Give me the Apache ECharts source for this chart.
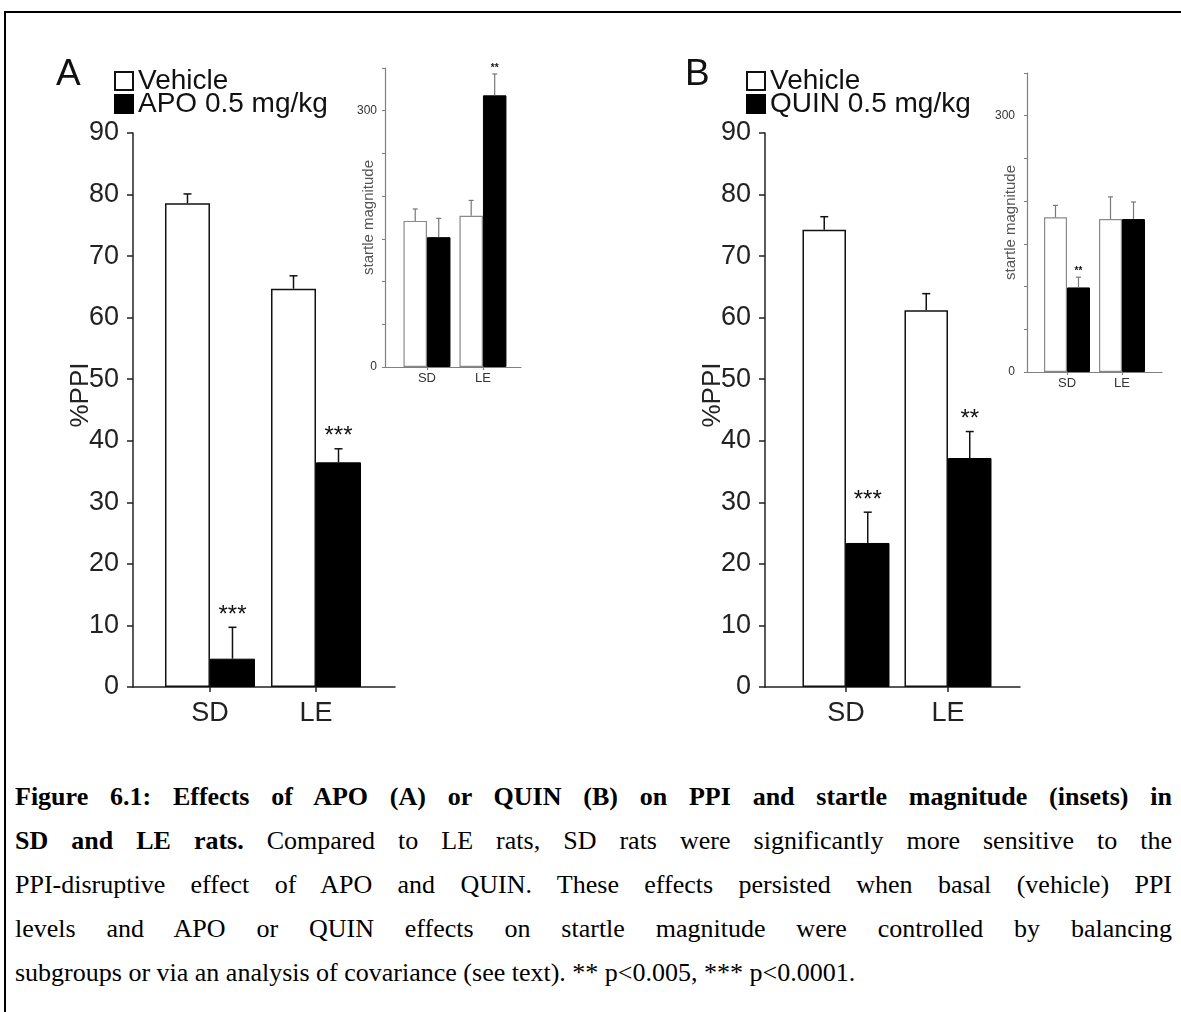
<!DOCTYPE html>
<html>
<head>
<meta charset="utf-8">
<script src="https://cdn.jsdelivr.net/npm/echarts@6/dist/echarts.min.js"></script>
<style>
  html, body { margin: 0; padding: 0; background: #fff; width: 1181px; height: 1012px; overflow: hidden; }
  #frame { position: absolute; left: 4px; top: 11px; width: 1300px; height: 1100px; border-top: 2px solid #000; border-left: 2px solid #000; }
  #chart { position: absolute; left: 0; top: 0; width: 1181px; height: 760px; }
  #caption { position: absolute; left: 15px; top: 775px; width: 1157px; font-family: 'Liberation Serif', 'Times New Roman', serif; font-size: 26px; line-height: 44px; color: #000; }
  #caption .j { text-align: justify; text-align-last: justify; white-space: nowrap; }
  #caption .l { text-align: left; white-space: nowrap; }
</style>
</head>
<body>
<div id="frame"></div>
<div id="chart"></div>
<div id="caption">
  <div class="j"><b>Figure 6.1: Effects of APO (A) or QUIN (B) on PPI and startle magnitude (insets) in</b></div>
  <div class="j"><b>SD and LE rats.</b> Compared to LE rats, SD rats were significantly more sensitive to the</div>
  <div class="j">PPI-disruptive effect of APO and QUIN. These effects persisted when basal (vehicle) PPI</div>
  <div class="j">levels and APO or QUIN effects on startle magnitude were controlled by balancing</div>
  <div class="l">subgroups or via an analysis of covariance (see text). ** p&lt;0.005, *** p&lt;0.0001.</div>
</div>
<script>
// ---------------- data ----------------
const groups = ['SD', 'LE'];
const seriesNames = ['Vehicle', 'APO 0.5 mg/kg', 'QUIN 0.5 mg/kg'];
const ppiTickMax = 90;
const ppiTickStep = 10;
const startleTickMax = 350;
const startleTickStep = 50;
const startleTickLabels = [0, 300];

// Panel A: %PPI
const ppiVehicleA = [78.6, 64.7];
const ppiVehicleErrA = [1.5, 2.1];
const ppiApoA = [4.6, 36.5];
const ppiApoErrA = [5.1, 2.2];
const ppiApoSigA = ['***', '***'];
// Panel B: %PPI
const ppiVehicleB = [74.3, 61.2];
const ppiVehicleErrB = [2.1, 2.7];
const ppiQuinB = [23.4, 37.2];
const ppiQuinErrB = [5.0, 4.3];
const ppiQuinSigB = ['***', '**'];
// Inset A: startle magnitude
const startleVehicleA = [171, 177];
const startleVehicleErrA = [14, 18];
const startleApoA = [152, 318];
const startleApoErrA = [22, 25];
const startleApoSigA = ['', '**'];
// Inset B: startle magnitude
const startleVehicleB = [181, 179];
const startleVehicleErrB = [14, 26];
const startleQuinB = [99, 179];
const startleQuinErrB = [12, 20];
const startleQuinSigB = ['**', ''];

// ---------------- layout / style ----------------
const FONT = "'Liberation Sans', Arial, Helvetica, sans-serif";
const groupPos = groups.map((g, i) => i + 1);

const panels = [
  { grid: { left: 133, top: 133, width: 262, height: 554 }, xMin: 0.274, xMax: 2.745, barW: 45, main: true,
    vehicle: ppiVehicleA, vErr: ppiVehicleErrA, drug: ppiApoA, dErr: ppiApoErrA, sig: ppiApoSigA, drugName: seriesNames[1] },
  { grid: { left: 765, top: 133, width: 255, height: 554 }, xMin: 0.206, xMax: 2.706, barW: 43.5, main: true,
    vehicle: ppiVehicleB, vErr: ppiVehicleErrB, drug: ppiQuinB, dErr: ppiQuinErrB, sig: ppiQuinSigB, drugName: seriesNames[2] },
  { grid: { left: 385, top: 68, width: 136, height: 299 }, xMin: 0.25, xMax: 2.68, barW: 23.5, main: false, labelMargin: 8,
    vehicle: startleVehicleA, vErr: startleVehicleErrA, drug: startleApoA, dErr: startleApoErrA, sig: startleApoSigA, drugName: seriesNames[1] },
  { grid: { left: 1027, top: 73, width: 135, height: 299 }, xMin: 0.273, xMax: 2.727, barW: 23, main: false, labelMargin: 12,
    vehicle: startleVehicleB, vErr: startleVehicleErrB, drug: startleQuinB, dErr: startleQuinErrB, sig: startleQuinSigB, drugName: seriesNames[2] }
];

function errSeries(idx, vals, errs, sigs, side, barW, st) {
  return {
    type: 'custom', xAxisIndex: idx, yAxisIndex: idx, z: 5, silent: true,
    name: 'err' + idx + side,
    data: vals.map((v, i) => [groupPos[i], v, errs[i]]),
    renderItem: function (params, api) {
      const x = api.value(0), v = api.value(1), e = api.value(2);
      const p0 = api.coord([x, v]);
      const p1 = api.coord([x, v + e]);
      const cx = p0[0] + side * barW / 2;
      const children = [
        { type: 'line', shape: { x1: cx, y1: p0[1], x2: cx, y2: p1[1] }, style: { stroke: st.color, lineWidth: st.lw } },
        { type: 'line', shape: { x1: cx - st.cap, y1: p1[1], x2: cx + st.cap, y2: p1[1] }, style: { stroke: st.color, lineWidth: st.lw } }
      ];
      const s = sigs ? sigs[params.dataIndex] : '';
      if (s) {
        children.push({ type: 'text', x: cx, y: p1[1] - st.starGap,
          style: { text: s, fill: '#111', fontSize: st.starSize, fontFamily: FONT, fontWeight: st.starWeight, align: 'center', verticalAlign: 'bottom' } });
      }
      return { type: 'group', children: children };
    }
  };
}

const grids = [], xAxes = [], yAxes = [], series = [];
panels.forEach((p, idx) => {
  grids.push(Object.assign({ containLabel: false }, p.grid));
  const lineColor = p.main ? '#222' : '#808080';
  const lw = p.main ? 1.5 : 1.2;
  xAxes.push({
    gridIndex: idx, type: 'value', min: p.xMin, max: p.xMax,
    axisLine: { show: true, onZero: false, lineStyle: { color: lineColor, width: lw } },
    axisTick: { show: true, customValues: groupPos, length: p.main ? 5 : 3, lineStyle: { color: lineColor, width: lw } },
    axisLabel: { show: true, customValues: groupPos, formatter: v => groups[Math.round(v) - 1] || '',
      fontSize: p.main ? 27 : 13, color: p.main ? '#222' : '#333', fontFamily: FONT, margin: p.main ? 13 : 5 },
    splitLine: { show: false }
  });
  yAxes.push(p.main ? {
    gridIndex: idx, type: 'value', min: 0, max: ppiTickMax, interval: ppiTickStep,
    axisLine: { show: true, lineStyle: { color: lineColor, width: lw } },
    axisTick: { show: true, length: 6, lineStyle: { color: lineColor, width: lw } },
    axisLabel: { fontSize: 27, color: '#222', fontFamily: FONT, margin: 14 },
    splitLine: { show: false },
    name: '%PPI', nameLocation: 'middle', nameGap: 39, nameRotate: 90, nameMoveOverlap: false,
    nameTextStyle: { fontSize: 26, color: '#222', fontFamily: FONT, padding: [0, 0, 0, 30] }
  } : {
    gridIndex: idx, type: 'value', min: 0, max: startleTickMax, interval: startleTickStep,
    axisLine: { show: true, lineStyle: { color: lineColor, width: lw } },
    axisTick: { show: true, length: 3, lineStyle: { color: lineColor, width: 1 } },
    axisLabel: { customValues: startleTickLabels, fontSize: 12, color: '#333', fontFamily: FONT, margin: p.labelMargin },
    splitLine: { show: false },
    name: 'startle magnitude', nameLocation: 'middle', nameGap: 9, nameRotate: 90, nameMoveOverlap: false,
    nameTextStyle: { fontSize: 15, color: '#555', fontFamily: FONT }
  });
  const border = p.main ? '#111' : '#8a8a8a';
  series.push({
    type: 'bar', name: seriesNames[0], xAxisIndex: idx, yAxisIndex: idx, barWidth: p.barW, barGap: '0%',
    data: p.vehicle.map((v, i) => [groupPos[i], v]),
    itemStyle: { color: '#fff', borderColor: border, borderWidth: p.main ? 1.5 : 1.2 }, silent: true
  });
  series.push({
    type: 'bar', name: p.drugName, xAxisIndex: idx, yAxisIndex: idx, barWidth: p.barW, barGap: '0%',
    data: p.drug.map((v, i) => [groupPos[i], v]),
    itemStyle: { color: '#000', borderColor: '#000', borderWidth: 1 }, silent: true
  });
  const st = p.main
    ? { color: '#111', lw: 1.5, cap: 4, starGap: 0, starSize: 24, starWeight: 'normal' }
    : { color: '#777', lw: 1.2, cap: 2.5, starGap: 1, starSize: 10, starWeight: 'bold' };
  series.push(errSeries(idx, p.vehicle, p.vErr, null, -1, p.barW, st));
  series.push(errSeries(idx, p.drug, p.dErr, p.sig, 1, p.barW, st));
});

const legendCommon = {
  orient: 'vertical', itemWidth: 18, itemHeight: 18, itemGap: -5, padding: 0, icon: 'rect', selectedMode: false,
  textStyle: { fontSize: 28, color: '#111', fontFamily: FONT }
};

const option = {
  animation: false,
  textStyle: { fontFamily: FONT },
  title: [
    { text: 'A', left: 51, top: 51, textStyle: { fontSize: 37, fontWeight: 'normal', color: '#111', fontFamily: FONT } },
    { text: 'B', left: 680, top: 51, textStyle: { fontSize: 37, fontWeight: 'normal', color: '#111', fontFamily: FONT } }
  ],
  legend: [
    Object.assign({ left: 114, top: 67, data: [seriesNames[0], seriesNames[1]] }, legendCommon),
    Object.assign({ left: 746, top: 67, data: [seriesNames[0], seriesNames[2]] }, legendCommon)
  ],
  grid: grids,
  xAxis: xAxes,
  yAxis: yAxes,
  series: series
};

const chart = echarts.init(document.getElementById('chart'), null, { renderer: 'canvas' });
chart.setOption(option);
</script>
</body>
</html>
